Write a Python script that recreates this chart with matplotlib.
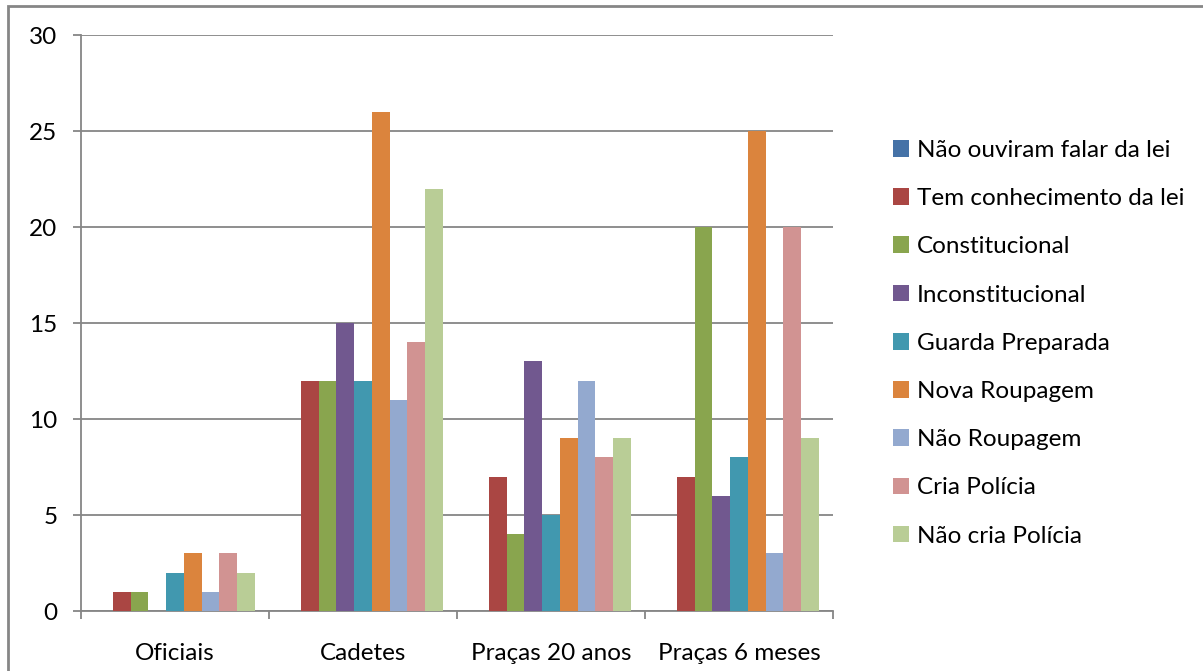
import numpy as np
import matplotlib.pyplot as plt
from matplotlib.patches import Rectangle, Patch

categories = ["Oficiais", "Cadetes", "Praças 20 anos", "Praças 6 meses"]
series_names = [
    "Não ouviram falar da lei",
    "Tem conhecimento da lei",
    "Constitucional",
    "Inconstitucional",
    "Guarda Preparada",
    "Nova Roupagem",
    "Não Roupagem",
    "Cria Polícia",
    "Não cria Polícia",
]
nao_ouviram = [0, 0, 0, 0]
tem_conhecimento = [1, 12, 7, 7]
constitucional = [1, 12, 4, 20]
inconstitucional = [0, 15, 13, 6]
guarda_preparada = [2, 12, 5, 8]
nova_roupagem = [3, 26, 9, 25]
nao_roupagem = [1, 11, 12, 3]
cria_policia = [3, 14, 8, 20]
nao_cria_policia = [2, 22, 9, 9]
values = [nao_ouviram, tem_conhecimento, constitucional, inconstitucional,
          guarda_preparada, nova_roupagem, nao_roupagem, cria_policia,
          nao_cria_policia]
colors = ["#4572A7", "#AA4643", "#89A54E", "#71588F", "#4198AF",
          "#DB843D", "#93A9CF", "#D19392", "#B9CD96"]

plt.rcParams["font.family"] = ["Lato", "DejaVu Sans"]
W, H = 1203, 671
fs = 17.5
fig = plt.figure(figsize=(W / 100, H / 100), dpi=100)
ax = fig.add_axes([81 / W, 1 - 611 / H, (833 - 81) / W, (611 - 35) / H])

n = len(values)
width = 1 / (n + 1.62)
x = np.arange(len(categories))
for i, (vals, c) in enumerate(zip(values, colors)):
    offs = (i - (n - 1) / 2) * width
    ax.bar(x + offs, vals, width, color=c, zorder=3, label=series_names[i])

gray = "#868686"
ax.set_xlim(-0.5, len(categories) - 0.5)
ax.set_ylim(0, 30)
ax.set_yticks(range(0, 31, 5))
ax.yaxis.grid(True, color=gray, lw=1.3, zorder=0)
ax.set_xticks(x)
ax.set_xticklabels(categories)
ax.set_xticks(np.arange(-0.5, len(categories)), minor=True)
ax.tick_params(axis="x", which="major", length=0, pad=23, labelsize=fs)
ax.tick_params(axis="x", which="minor", length=6, width=1.3, color=gray, direction="out")
ax.tick_params(axis="y", length=6, width=1.3, color=gray, pad=11, labelsize=fs)
for s in ["top", "right"]:
    ax.spines[s].set_visible(False)
for s in ["left", "bottom"]:
    ax.spines[s].set_color(gray)
    ax.spines[s].set_linewidth(1.3)

handles = [Patch(facecolor=c) for c in colors]
fig.legend(handles, series_names, loc="upper left",
           bbox_to_anchor=(871 / W, 1 - 118 / H), frameon=False,
           fontsize=fs, handlelength=0.68, handleheight=0.68,
           handletextpad=0.3, labelspacing=1.12)

fig.add_artist(Rectangle((8 / W, -0.1), 1.2, 1 - 5.5 / H + 0.1,
                         transform=fig.transFigure, fill=False,
                         edgecolor=gray, lw=2))

fig.savefig("out.png", dpi=100)
